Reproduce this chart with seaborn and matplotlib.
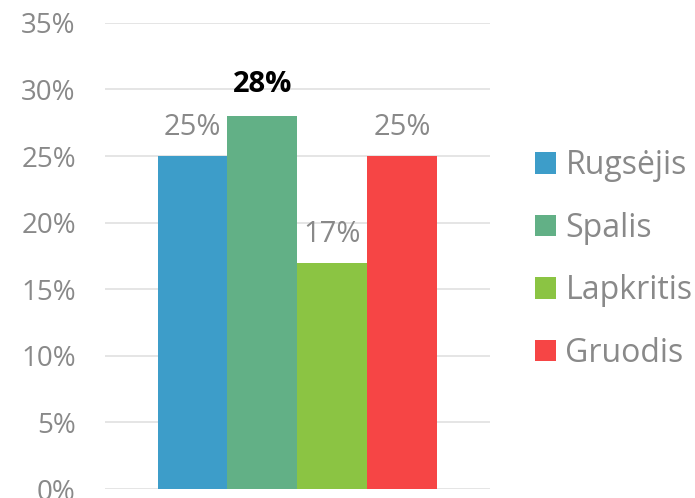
import pandas as pd
import matplotlib.pyplot as plt
import seaborn as sns
from matplotlib.ticker import FuncFormatter

# ---------- DATA ----------
months = ["Rugsėjis", "Spalis", "Lapkritis", "Gruodis"]
shares = [25, 28, 17, 25]
colors = ["#3D9DC9", "#62B086", "#8BC443", "#F64545"]
y_ticks = [0, 5, 10, 15, 20, 25, 30, 35]

df = pd.DataFrame({"group": [""] * len(months), "month": months, "share": shares})

# ---------- STYLE ----------
sns.set_theme(style="white")
plt.rcParams["font.family"] = ["Open Sans", "DejaVu Sans"]
gray = "#898989"

fig = plt.figure(figsize=(6.95, 4.98), dpi=100)
ax = fig.add_axes([0.151, 0.018, 0.554, 0.936])

sns.barplot(data=df, x="group", y="share", hue="month", hue_order=months,
            palette=colors, width=0.727, gap=0, saturation=1, linewidth=0,
            ax=ax, legend=True)

ax.set_ylim(0, 35)
ax.set_xlim(-0.5, 0.5)
ax.set_yticks(y_ticks)
ax.yaxis.set_major_formatter(FuncFormatter(lambda v, _: f"{v:.0f}%"))
ax.tick_params(axis="y", labelsize=20, colors=gray, length=0, pad=21)
ax.set_xticks([])
ax.set_xlabel("")
ax.set_ylabel("")
ax.grid(axis="y", color="#E3E3E3", linewidth=1.3)
ax.set_axisbelow(True)
for s in ax.spines.values():
    s.set_visible(False)

# value labels (largest one in bold black)
for cont, val in zip(ax.containers, shares):
    bold = val == max(shares)
    ax.bar_label(cont, labels=[f"{val}%"], padding=12 if bold else 10, fontsize=21,
                 color="black" if bold else gray,
                 fontweight="bold" if bold else "normal")

handles, labels = ax.get_legend_handles_labels()
ax.legend(handles, labels, loc="center left", bbox_to_anchor=(0.77, 0.479),
          bbox_transform=fig.transFigure, frameon=False, fontsize=23,
          labelcolor=gray, handlelength=0.65, handleheight=0.65,
          handletextpad=0.3, labelspacing=0.92, borderaxespad=0, borderpad=0)

fig.savefig("out.png", dpi=100)
